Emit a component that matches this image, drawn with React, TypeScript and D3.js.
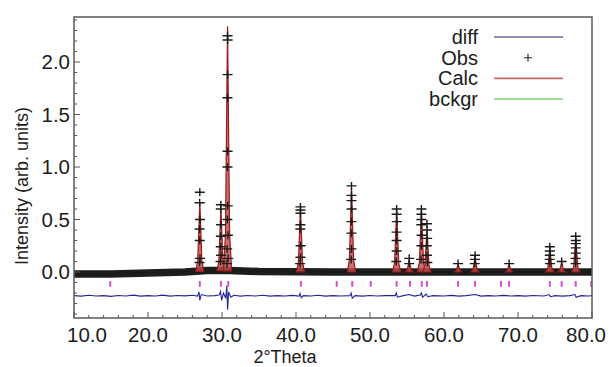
import * as d3 from 'd3'

// reflection markers (2θ)
const reflPos = [14.9, 27.0, 29.85, 30.85, 40.65, 45.5, 47.6, 50.1, 53.6, 55.4, 57.0, 57.7,
  61.9, 64.2, 67.7, 68.8, 74.3, 75.9, 77.8, 79.9]

// calculated peaks: position, height above background
const calcPeaks: [number, number][] = [
  [27.0, 0.66], [29.85, 0.6], [30.75, 2.33], [40.6, 0.6], [47.5, 0.8], [53.6, 0.58],
  [55.3, 0.11], [56.95, 0.58], [57.7, 0.4], [61.9, 0.07], [64.2, 0.14], [68.8, 0.07],
  [74.3, 0.22], [75.9, 0.09], [77.8, 0.32],
]

// observed points on the peaks
const obsPts: [number, number][] = [
  [27.0, 0.76], [26.98, 0.66], [27.02, 0.5], [26.98, 0.41], [27.0, 0.3], [27.03, 0.13], [26.97, 0.09],
  [29.85, 0.64], [29.83, 0.6], [29.87, 0.45], [29.85, 0.34], [29.83, 0.24], [29.87, 0.16], [29.8, 0.1],
  [30.75, 2.25], [30.76, 2.21], [30.75, 1.88], [30.74, 1.66], [30.76, 1.15], [30.74, 1.0], [30.78, 0.63],
  [30.73, 0.5], [30.8, 0.35], [30.7, 0.22], [30.82, 0.13], [30.68, 0.08],
  [40.6, 0.62], [40.6, 0.59], [40.6, 0.56], [40.6, 0.45], [40.58, 0.41], [40.62, 0.25], [40.6, 0.14], [40.55, 0.08],
  [47.5, 0.82], [47.5, 0.73], [47.5, 0.68], [47.52, 0.6], [47.48, 0.48], [47.5, 0.37], [47.5, 0.22], [47.45, 0.12],
  [53.6, 0.6], [53.6, 0.55], [53.62, 0.48], [53.58, 0.38], [53.6, 0.3], [53.6, 0.2], [53.55, 0.1],
  [55.3, 0.13], [55.3, 0.08],
  [56.95, 0.6], [56.95, 0.55], [56.95, 0.5], [56.93, 0.45], [56.97, 0.35], [56.95, 0.25], [56.9, 0.12],
  [57.7, 0.46], [57.7, 0.4], [57.72, 0.32], [57.68, 0.25], [57.7, 0.16], [57.75, 0.09],
  [61.9, 0.08],
  [64.2, 0.16], [64.2, 0.12], [64.15, 0.08],
  [68.8, 0.08],
  [74.3, 0.24], [74.3, 0.2], [74.3, 0.16], [74.28, 0.12], [74.32, 0.08],
  [75.9, 0.1],
  [77.8, 0.34], [77.8, 0.3], [77.8, 0.27], [77.8, 0.23], [77.82, 0.18], [77.78, 0.13], [77.8, 0.08],
]

// dense observed background band (centre)
const obsBand: [number, number][] = [
  [10, -0.02], [15, -0.018], [20, -0.01], [25, 0.0], [28, 0.014], [31, 0.014],
  [35, 0.005], [45, 0.0], [55, 0.0], [65, 0.0], [80, 0.0],
]

const bckgr: [number, number][] = [
  [10, -0.02], [20, -0.01], [26, 0.005], [30, 0.012], [35, 0.004], [45, 0.0], [80, 0.0],
]

const diffPts: [number, number][] = [
  [10, -0.225], [11, -0.23], [12, -0.222], [13, -0.228], [14, -0.225], [15, -0.232], [16, -0.224],
  [17, -0.229], [18, -0.22], [19, -0.23], [20, -0.225], [21, -0.228], [22, -0.22], [23, -0.23],
  [24, -0.224], [25, -0.227], [26, -0.222], [26.7, -0.23], [26.9, -0.19], [27.0, -0.27], [27.2, -0.215],
  [28, -0.228], [29, -0.225], [29.6, -0.22], [29.8, -0.185], [29.95, -0.27], [30.2, -0.2], [30.5, -0.25],
  [30.65, -0.13], [30.75, -0.36], [30.9, -0.19], [31.2, -0.24], [31.6, -0.222], [32.5, -0.23],
  [33.5, -0.224], [34.5, -0.228], [35.5, -0.222], [36.5, -0.23], [37.5, -0.225], [38.5, -0.228],
  [39.5, -0.223], [40.4, -0.23], [40.55, -0.205], [40.7, -0.245], [41, -0.225], [42, -0.228],
  [43, -0.222], [44, -0.23], [45, -0.225], [46, -0.228], [47.3, -0.225], [47.45, -0.2], [47.6, -0.25],
  [48, -0.225], [49, -0.23], [50, -0.224], [51, -0.228], [52, -0.225], [53.4, -0.225], [53.55, -0.2],
  [53.7, -0.24], [54.5, -0.225], [55.3, -0.215], [56, -0.23], [56.8, -0.22], [56.95, -0.2],
  [57.1, -0.24], [57.6, -0.21], [57.8, -0.235], [58.5, -0.225], [60, -0.228], [61, -0.223],
  [62, -0.23], [63, -0.225], [64.2, -0.215], [65, -0.23], [66, -0.225], [67, -0.228], [68, -0.223],
  [69, -0.228], [70, -0.225], [71, -0.23], [72, -0.224], [73.5, -0.228], [74.2, -0.215],
  [74.4, -0.235], [75, -0.225], [76, -0.23], [77, -0.225], [77.7, -0.215], [77.85, -0.24],
  [78.5, -0.225], [79.5, -0.228], [80, -0.225],
]

const xTicks = [10, 20, 30, 40, 50, 60, 70, 80]
const yTicks = [0, 0.5, 1.0, 1.5, 2.0]

const legendItems = [
  { label: 'diff', color: '#6b6b9e', kind: 'line' },
  { label: 'Obs', color: '#222', kind: 'plus' },
  { label: 'Calc', color: '#c06a6a', kind: 'line' },
  { label: 'bckgr', color: '#8fd88f', kind: 'line' },
]

const W = 610, H = 367
const L = 74, R = 592, T = 17, B = 318
const FONT = '"Liberation Sans", Arial, sans-serif'
const INK = '#1c1c1c'

export default function App() {
  const x = d3.scaleLinear().domain([10, 80]).range([L, R])
  const y = d3.scaleLinear().domain([0, 2]).range([272, 62])

  const line = d3.line<[number, number]>().x(d => x(d[0])).y(d => y(d[1]))
  const bgAt = d3.scaleLinear().domain(bckgr.map(d => d[0])).range(bckgr.map(d => d[1]))

  const peakPath = ([c, h]: [number, number]) => {
    const b = bgAt(c)
    const pts: [number, number][] = [
      [c - 0.55, b], [c - 0.28, b + 0.15 * h], [c, b + h], [c + 0.28, b + 0.15 * h], [c + 0.55, b],
    ]
    return line(pts) + 'Z'
  }

  const minorY = d3.range(-0.4, 2.41, 0.1).map(v => Math.round(v * 10) / 10)
  const minorX = d3.range(10, 81, 2)
  const last = xTicks.length - 1

  return (
    <svg width={W} height={H} style={{ position: 'absolute', left: 0, top: 0, background: '#fff' }}
      fontFamily={FONT}>
      <defs>
        <clipPath id="plot"><rect x={L} y={T} width={R - L} height={B - T} /></clipPath>
      </defs>
      <g clipPath="url(#plot)">
        {/* diff */}
        <path d={line(diffPts) ?? ''} fill="none" stroke="#25259a" strokeWidth={1.1} />
        {/* reflection markers */}
        {reflPos.map(p => (
          <line key={p} x1={x(p)} x2={x(p)} y1={y(-0.085)} y2={y(-0.14)} stroke="#d24fd2" strokeWidth={2} />
        ))}
        {/* background */}
        <path d={line(bckgr) ?? ''} fill="none" stroke="#8fd88f" strokeWidth={2} />
        {/* obs band */}
        <path d={line(obsBand) ?? ''} fill="none" stroke="#111" strokeWidth={7.5} opacity={0.95} />
        {/* calc peaks */}
        {calcPeaks.map(p => (
          <path key={p[0]} d={peakPath(p)} fill="#b85050" fillOpacity={0.8} stroke="#9e1818" strokeWidth={1.2} />
        ))}
        {/* obs markers */}
        {obsPts.map((d, i) => {
          const cx = x(d[0]), cy = y(d[1])
          return (
            <path key={i} d={`M${cx - 5},${cy}H${cx + 5}M${cx},${cy - 4}V${cy + 4}`}
              stroke="#1a1a1a" strokeWidth={1.4} />
          )
        })}
      </g>

      {/* frame */}
      <rect x={L} y={T} width={R - L} height={B - T} fill="none" stroke="#5a5a5a" strokeWidth={1.5} />

      {/* y ticks */}
      {minorY.map(v => (
        <line key={'my' + v} x1={L} x2={L + (yTicks.includes(v) ? 6 : 3)} y1={y(v)} y2={y(v)}
          stroke="#555" strokeWidth={1} />
      ))}
      {yTicks.map(v => (
        <text key={'ty' + v} x={L - 4} y={y(v) + 7} textAnchor="end" fontSize={20.5} fill={INK}>
          {v.toFixed(1)}
        </text>
      ))}

      {/* x ticks */}
      {minorX.map(v => (
        <line key={'mx' + v} x1={x(v)} x2={x(v)} y1={B} y2={B - (v % 10 === 0 ? 6 : 3)}
          stroke="#555" strokeWidth={1} />
      ))}
      {xTicks.map((v, i) => (
        <text key={'tx' + v}
          x={i === 0 ? 67 : i === last ? 606 : x(v)} y={342}
          textAnchor={i === 0 ? 'start' : i === last ? 'end' : 'middle'}
          fontSize={20.5} fill={INK}>
          {v.toFixed(1)}
        </text>
      ))}

      {/* axis titles */}
      <text transform="translate(28,186) rotate(-90)" textAnchor="middle" fontSize={18} fill={INK}>
        Intensity (arb. units)
      </text>
      <text x={285} y={363} textAnchor="middle" fontSize={18} fill={INK}>2°Theta</text>

      {/* legend */}
      {legendItems.map((it, i) => {
        const cy = 37 + i * 20.7
        return (
          <g key={it.label}>
            <text x={478} y={cy + 7} textAnchor="end" fontSize={20} fill={INK}>{it.label}</text>
            {it.kind === 'line'
              ? <line x1={494} x2={563} y1={cy} y2={cy} stroke={it.color} strokeWidth={1.6} />
              : <path d={`M${524},${cy}H${532}M${528},${cy - 4}V${cy + 4}`} stroke={it.color} strokeWidth={1.1} />}
          </g>
        )
      })}
    </svg>
  )
}
